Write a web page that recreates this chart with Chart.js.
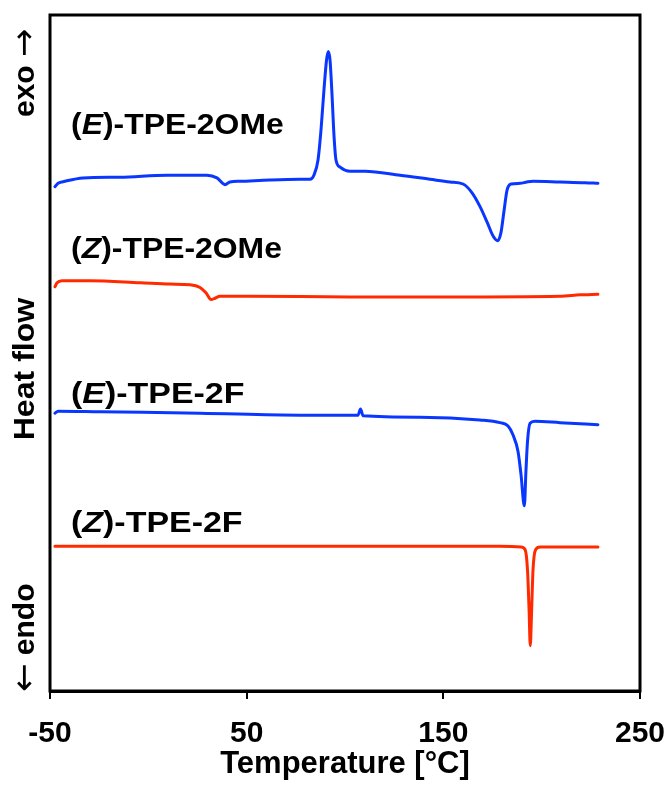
<!DOCTYPE html>
<html>
<head>
<meta charset="utf-8">
<script src="https://cdn.jsdelivr.net/npm/chart.js@4.4.1/dist/chart.umd.min.js"></script>
<style>
  html, body { margin: 0; padding: 0; background: #fff; }
  #wrap { width: 667px; height: 785px; position: relative; }
</style>
</head>
<body>
<div id="wrap"><canvas id="c" width="667" height="785"></canvas></div>
<script>
// ---- Data (temperature in °C, heat flow in arbitrary units, offset per trace) ----
const xTicks = [-50, 50, 150, 250];

const seriesNames = ['(E)-TPE-2OMe', '(Z)-TPE-2OMe', '(E)-TPE-2F', '(Z)-TPE-2F'];

const tempE2OMe = [-47.5, -45.9, -42.4, -33.2, -14.4, 9.5, 29.8, 34.9, 39.0, 41.5, 46.6, 61.9, 77.1, 82.2, 84.2, 86.3, 87.8, 89.3, 90.6, 91.5, 92.4, 93.4, 94.4, 95.4, 97.5, 102.5, 110.2, 128.0, 143.2, 153.4, 160.0, 164.6, 168.6, 172.2, 175.3, 177.6, 179.3, 180.8, 182.4, 184.4, 189.0, 192.5, 195.6, 209.3, 222.0, 228.6];
const flowE2OMe = [74.6, 75.1, 75.4, 75.9, 76.0, 76.3, 76.3, 75.9, 74.9, 75.3, 75.4, 75.6, 75.7, 75.7, 76.3, 78.6, 83.0, 88.9, 93.3, 94.6, 93.3, 88.2, 82.2, 78.6, 77.5, 76.9, 76.9, 76.3, 75.7, 75.3, 75.0, 73.7, 71.7, 69.4, 67.3, 66.6, 67.8, 70.9, 74.1, 75.0, 75.1, 75.3, 75.4, 75.3, 75.2, 75.1];

const tempZ2OMe = [-47.5, -46.4, -43.9, -29.7, -4.2, 11.0, 21.2, 26.3, 29.3, 31.9, 33.9, 36.4, 51.7, 102.5, 153.4, 209.3, 219.5, 228.6];
const flowZ2OMe = [59.8, 60.4, 60.7, 60.7, 60.4, 60.2, 60.1, 59.7, 58.9, 57.9, 58.1, 58.4, 58.4, 58.3, 58.3, 58.4, 58.6, 58.7];

const tempE2F = [-47.5, -45.9, -24.6, 26.3, 77.1, 106.6, 107.9, 109.2, 138.1, 168.6, 178.8, 182.9, 185.4, 188.0, 189.5, 191.2, 192.0, 192.8, 194.1, 196.6, 209.3, 228.6];
const flowE2F = [41.1, 41.4, 41.3, 41.1, 40.8, 40.8, 41.7, 40.7, 40.5, 40.1, 39.7, 39.2, 37.9, 35.4, 32.0, 27.4, 32.5, 36.9, 39.6, 39.9, 39.7, 39.4];

const tempZ2F = [-47.5, -24.6, 77.1, 178.8, 189.5, 191.6, 192.8, 193.6, 194.2, 194.9, 195.6, 196.9, 199.2, 211.9, 228.6];
const flowZ2F = [21.4, 21.4, 21.4, 21.4, 21.3, 20.9, 17.9, 12.0, 6.7, 12.0, 17.9, 20.9, 21.3, 21.3, 21.3];

// label anchors in data coordinates (temperature, heat flow)
const labelTemp = [-39.3, -39.3, -39.3, -39.3];
const labelFlow = [82.4, 64.1, 42.6, 23.5];

const BLUE = '#0a37ff';
const RED = '#ff2a00';
const FONT = "'Liberation Sans', Arial, Helvetica, sans-serif";
const ARROWFONT = "'DejaVu Sans', sans-serif";

function pts(t, f) { return t.map((v, i) => ({ x: v, y: f[i] })); }

const datasets = [
  { label: seriesNames[0], data: pts(tempE2OMe, flowE2OMe), borderColor: BLUE },
  { label: seriesNames[1], data: pts(tempZ2OMe, flowZ2OMe), borderColor: RED },
  { label: seriesNames[2], data: pts(tempE2F, flowE2F), borderColor: BLUE },
  { label: seriesNames[3], data: pts(tempZ2F, flowZ2F), borderColor: RED }
].map(d => Object.assign(d, {
  borderWidth: 3, pointRadius: 0, fill: false,
  cubicInterpolationMode: 'monotone', borderJoinStyle: 'round', borderCapStyle: 'round'
}));

const labelStretch = [1.10, 1.10, 1.17, 1.17];

const decor = {
  id: 'decor',
  afterDraw(chart) {
    const ctx = chart.ctx;
    const a = chart.chartArea;
    const xs = chart.scales.x, ys = chart.scales.y;
    ctx.save();
    // frame
    ctx.strokeStyle = '#000';
    ctx.lineWidth = 3;
    ctx.strokeRect(a.left, a.top, a.right - a.left, a.bottom - a.top);

    // series labels: "(" + italic letter + rest
    ctx.fillStyle = '#000';
    ctx.textBaseline = 'alphabetic';
    ctx.textAlign = 'left';
    seriesNames.forEach((name, i) => {
      const x0 = xs.getPixelForValue(labelTemp[i]);
      const y = ys.getPixelForValue(labelFlow[i]);
      ctx.save();
      ctx.translate(x0, y);
      ctx.scale(labelStretch[i], 1);
      let x = 0;
      const parts = [
        [name.slice(0, 1), 'bold 29px ' + FONT],
        [name.slice(1, 2), 'italic bold 29px ' + FONT],
        [name.slice(2), 'bold 29px ' + FONT]
      ];
      parts.forEach(([t, f]) => {
        ctx.font = f;
        ctx.fillText(t, x, 0);
        x += ctx.measureText(t).width;
      });
      ctx.restore();
    });

    // y-axis side texts (rotated)
    const bx = 34;
    const drawRot = (segments, yStart) => {
      ctx.save();
      ctx.translate(bx, yStart);
      ctx.rotate(-Math.PI / 2);
      let x = 0;
      segments.forEach(([t, f, dy]) => {
        ctx.font = f;
        ctx.fillText(t, x, dy || 0);
        x += ctx.measureText(t).width;
      });
      ctx.restore();
    };
    drawRot([['exo ', 'bold 30px ' + FONT], ['\u2192', '34px ' + ARROWFONT, 1]], 117);
    drawRot([['\u2190', '34px ' + ARROWFONT, 1], [' endo', 'bold 30px ' + FONT]], 692);
    ctx.save();
    ctx.translate(bx, 369);
    ctx.rotate(-Math.PI / 2);
    ctx.scale(1.07, 1);
    ctx.textAlign = 'center';
    ctx.font = 'bold 30px ' + FONT;
    ctx.fillText('Heat flow', 0, 0);
    ctx.restore();
    ctx.restore();
  }
};

new Chart(document.getElementById('c'), {
  type: 'line',
  data: { datasets },
  options: {
    responsive: false,
    animation: false,
    devicePixelRatio: 1,
    layout: { padding: { left: 50, right: 27, top: 15, bottom: 0 } },
    plugins: { legend: { display: false }, tooltip: { enabled: false } },
    scales: {
      x: {
        type: 'linear', min: -50, max: 250,
        afterBuildTicks: s => { s.ticks = xTicks.map(v => ({ value: v })); },
        afterFit: s => { s.height = 94; s.paddingLeft = 0; s.paddingRight = 0; },
        ticks: { color: '#000', font: { family: FONT, size: 30, weight: 'bold' }, padding: 17, maxRotation: 0 },
        grid: { drawOnChartArea: false, drawTicks: true, tickLength: 8, color: '#000', lineWidth: 2 },
        border: { display: true, color: '#000', width: 3 },
        title: { display: true, text: 'Temperature [°C]', color: '#000',
                 font: { family: FONT, size: 31, weight: 'bold' }, padding: { top: 0, bottom: 2 } }
      },
      y: { display: false, min: 0, max: 100 }
    }
  },
  plugins: [decor]
});
</script>
</body>
</html>
